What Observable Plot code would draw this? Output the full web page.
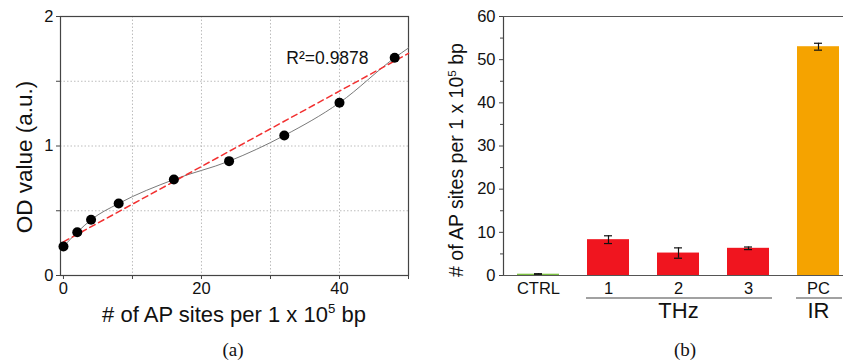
<!DOCTYPE html>
<html><head><meta charset="utf-8">
<script src="https://cdn.jsdelivr.net/npm/d3@7"></script>
<script src="https://cdn.jsdelivr.net/npm/@observablehq/plot@0.6"></script>
<style>
body{margin:0;background:#fff;width:843px;height:360px;overflow:hidden;position:relative;font-family:"Liberation Sans",Arial,sans-serif;}
#a{position:absolute;left:0;top:0}
#b{position:absolute;left:430px;top:0}
.t{position:absolute;white-space:nowrap;color:#111;transform:translate(-50%,-50%);line-height:1}
.r{transform:translate(-50%,-50%) rotate(-90deg)}
.cap{font-family:"Liberation Serif","Times New Roman",serif;font-size:19px}
sup{font-size:0.6em;vertical-align:0.65em;line-height:0}
</style></head><body>
<div id="a"></div><div id="b"></div>
<div class="t r" style="left:25px;top:157px;font-size:22.5px">OD value (a.u.)</div>
<div class="t" style="left:234px;top:315px;font-size:22px"># of AP sites per 1 x 10<sup>5</sup> bp</div>
<div class="t r" style="left:457px;top:160px;font-size:19.5px"># of AP sites per 1 x 10<sup>5</sup> bp</div>
<div class="t cap" style="left:233px;top:349px">(a)</div>
<div class="t cap" style="left:685px;top:349px">(b)</div>
<script>
// Panel (a): calibration
const apSites = [0, 2, 4, 8, 16, 24, 32, 40, 48];
const odValues = [0.224, 0.334, 0.43, 0.556, 0.741, 0.883, 1.081, 1.334, 1.681];
const curveTailX = [50];
const curveTailY = [1.757];
const fitX = [0, 50];
const fitY = [0.26, 1.715];
const rSquaredLabel = ["R²=0.9878"];
const rSquaredAt = [32.3, 1.676];

// Panel (b): AP sites per treatment
const groups = ["CTRL", "1", "2", "3", "PC"];
const treatment = ["control", "THz", "THz", "THz", "IR"];
const apCounts = [0.3, 8.3, 5.2, 6.3, 53.0];
const apErrors = [0.12, 0.9, 1.2, 0.3, 0.8];
const groupLabels = ["THz", "IR"];
const groupCenters = ["2", "PC"];
const groupSpans = [["1", "3"], ["PC", "PC"]];

const points = apSites.map((x, i) => ({x, y: odValues[i]}));
const curvePts = points.concat(curveTailX.map((x, i) => ({x, y: curveTailY[i]})));
const fitPts = fitX.map((x, i) => ({x, y: fitY[i]}));
const bars = groups.map((g, i) => ({g, t: treatment[i], v: apCounts[i], e: apErrors[i]}));

const FF = "'Liberation Sans', Arial, sans-serif";
const font = {fontFamily: FF, fontSize: "16.5px", color: "#111", background: "transparent", overflow: "visible"};
const grid = {stroke: "#bdbdbd", strokeOpacity: 1, strokeDasharray: "1.5,2"};
const ax = {fontSize: 16.5, fontFamily: FF, fill: "#111", stroke: "#444", label: null};

const chartA = Plot.plot({
  width: 420, height: 360, marginLeft: 60, marginRight: 12, marginTop: 16, marginBottom: 85,
  style: font,
  x: {domain: [-0.43, 50]},
  y: {domain: [0, 2]},
  marks: [
    Plot.gridX([10, 20, 30, 40], grid),
    Plot.gridY([0.5, 1, 1.5], grid),
    Plot.axisX([0, 20, 40], {...ax, tickSize: 4, tickPadding: 3, tickFormat: d => String(d)}),
    Plot.axisX([10, 30, 50], {...ax, tickSize: 4, tickFormat: () => ""}),
    Plot.axisY([0, 1, 2], {...ax, tickSize: 4, tickPadding: 3, tickFormat: d => String(d)}),
    Plot.axisY([0.5, 1.5], {...ax, tickSize: 4, tickFormat: () => ""}),
    Plot.frame({stroke: "#444", strokeWidth: 1.2}),
    Plot.line(curvePts, {x: "x", y: "y", curve: "monotone-x", stroke: "#7a7a7a", strokeWidth: 1}),
    Plot.line(fitPts, {x: "x", y: "y", stroke: "#f23030", strokeWidth: 1.5, strokeDasharray: "6,4"}),
    Plot.dot(points, {x: "x", y: "y", r: 5, fill: "#000"}),
    Plot.text(rSquaredLabel, {x: () => rSquaredAt[0], y: () => rSquaredAt[1], text: d => d, textAnchor: "start", fontSize: 17.5, fontFamily: FF, fill: "#111"})
  ]
});
document.getElementById("a").append(chartA);

const chartB = Plot.plot({
  width: 413, height: 360, marginLeft: 73, marginRight: 0, marginTop: 16, marginBottom: 85,
  style: font,
  x: {type: "band", domain: groups, range: [73, 423], paddingInner: 0.4, paddingOuter: 0.2},
  y: {domain: [0, 60]},
  color: {domain: ["control", "THz", "IR"], range: ["#7cc142", "#f0151f", "#f5a300"]},
  marks: [
    Plot.barY(bars, {x: "g", y: "v", fill: "t"}),
    Plot.ruleX(bars, {x: "g", y1: d => d.v - d.e, y2: d => d.v + d.e, stroke: "#111", strokeWidth: 1.2}),
    Plot.tickY(bars, {x: "g", y: d => d.v + d.e, insetLeft: 17, insetRight: 17, stroke: "#111", strokeWidth: 1.2}),
    Plot.tickY(bars, {x: "g", y: d => d.v - d.e, insetLeft: 17, insetRight: 17, stroke: "#111", strokeWidth: 1.2}),
    Plot.frame({anchor: "left", stroke: "#444", strokeWidth: 1.2}),
    Plot.ruleY([0], {stroke: "#555", strokeWidth: 1.2}),
    Plot.ruleY([60], {stroke: "#555", strokeWidth: 1.2}),
    Plot.axisY(d3.range(0, 61, 10), {...ax, tickSize: 4, tickPadding: 4, tickFormat: d => String(d)}),
    Plot.axisY(d3.range(5, 60, 10), {...ax, tickSize: 3, tickFormat: () => ""}),
    Plot.axisX({...ax, tickSize: 0, tickPadding: 7}),
    Plot.text(groupLabels, {x: (d, i) => groupCenters[i], text: d => d, frameAnchor: "bottom", dy: 42, fontSize: 22, fontFamily: FF, fill: "#111"})
  ]
});
document.getElementById("b").append(chartB);

// underlines for THz / IR groups, placed with the chart's own x scale
const xs = chartB.scale("x");
const svgB = d3.select(chartB.tagName === "svg" ? chartB : chartB.querySelector("svg"));
const yBase = chartB.scale("y").apply(0);
groupSpans.forEach(([a, b]) => {
  svgB.append("line")
    .attr("x1", xs.apply(a) - 1).attr("x2", xs.apply(b) + xs.bandwidth + 3)
    .attr("y1", yBase + 23).attr("y2", yBase + 23)
    .attr("stroke", "#444").attr("stroke-width", 1.2);
});
</script>
</body></html>
